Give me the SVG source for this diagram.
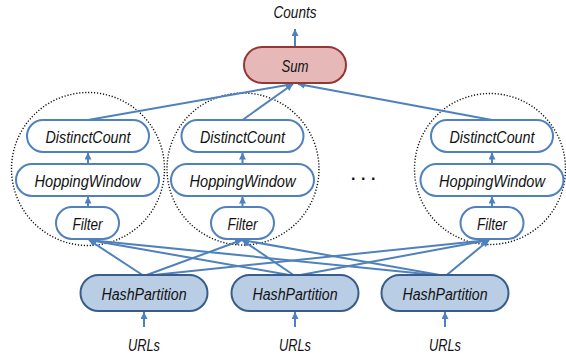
<svg xmlns="http://www.w3.org/2000/svg" width="566" height="358" viewBox="0 0 566 358">
<defs>
<marker id="arr" viewBox="0 0 8 8" refX="8" refY="4" markerWidth="7" markerHeight="7" markerUnits="userSpaceOnUse" orient="auto">
<path d="M0,0 L8,4 L0,8 z" fill="#4f81bd"/>
</marker>
<style>
text{font-family:"Liberation Sans",Arial,sans-serif;font-style:italic;font-size:16px;fill:#111;text-anchor:middle}
.op{fill:#fff;stroke:#4f81bd;stroke-width:2}
.hp{fill:#b9cde5;stroke:#385d8a;stroke-width:2}
.sum{fill:#e6b9b8;stroke:#953735;stroke-width:2}
.grp{fill:none;stroke:#111;stroke-width:1.4;stroke-dasharray:1.2 1.8}
.c{stroke:#4f81bd;stroke-width:2;fill:none;marker-end:url(#arr)}
</style>
</defs>
<rect width="566" height="358" fill="#fff"/>
<g id="groups">
<circle class="grp" cx="88" cy="169" r="76.5"/>
<circle class="grp" cx="243" cy="169" r="76"/>
<circle class="grp" cx="490" cy="169" r="75.5"/>
</g>
<g id="connectors">
<line class="c" x1="295" y1="47" x2="295" y2="29"/>
<line class="c" x1="144" y1="327" x2="144" y2="312"/>
<line class="c" x1="295" y1="327" x2="295" y2="312"/>
<line class="c" x1="445" y1="327" x2="445" y2="312"/>
<line class="c" x1="88" y1="164" x2="88" y2="152.5"/>
<line class="c" x1="88" y1="207" x2="88" y2="196.5"/>
<line class="c" x1="242.5" y1="164" x2="242.5" y2="152.5"/>
<line class="c" x1="242.5" y1="207" x2="242.5" y2="196.5"/>
<line class="c" x1="492" y1="164" x2="492" y2="152.5"/>
<line class="c" x1="492" y1="207" x2="492" y2="196.5"/>
<line class="c" x1="88" y1="120" x2="293" y2="84"/>
<line class="c" x1="242.5" y1="120" x2="293" y2="84"/>
<line class="c" x1="492" y1="120" x2="298" y2="84"/>
<line class="c" x1="144" y1="276" x2="89" y2="240"/>
<line class="c" x1="144" y1="276" x2="242" y2="240"/>
<line class="c" x1="144" y1="276" x2="489" y2="240"/>
<line class="c" x1="295" y1="276" x2="89" y2="240"/>
<line class="c" x1="295" y1="276" x2="242" y2="240"/>
<line class="c" x1="295" y1="276" x2="489" y2="240"/>
<line class="c" x1="445.5" y1="276" x2="89" y2="240"/>
<line class="c" x1="445.5" y1="276" x2="242" y2="240"/>
<line class="c" x1="445.5" y1="276" x2="489" y2="240"/>
</g>
<g id="sum"><rect class="sum" x="244" y="47" width="102" height="36" rx="18"/><text x="295" y="72" textLength="27" lengthAdjust="spacingAndGlyphs">Sum</text></g>
<g id="dc1"><rect class="op" x="27" y="120" width="122" height="32" rx="16"/><text x="88" y="142.5" textLength="85" lengthAdjust="spacingAndGlyphs">DistinctCount</text></g>
<g id="hw1"><rect class="op" x="16" y="164" width="143" height="32" rx="16"/><text x="87.5" y="186.5" textLength="106" lengthAdjust="spacingAndGlyphs">HoppingWindow</text></g>
<g id="f1"><rect class="op" x="56" y="207" width="63" height="32" rx="16"/><text x="87.5" y="229.5" textLength="30" lengthAdjust="spacingAndGlyphs">Filter</text></g>
<g id="dc2"><rect class="op" x="181.5" y="120" width="122" height="32" rx="16"/><text x="242.5" y="142.5" textLength="85" lengthAdjust="spacingAndGlyphs">DistinctCount</text></g>
<g id="hw2"><rect class="op" x="171" y="164" width="143" height="32" rx="16"/><text x="242.5" y="186.5" textLength="106" lengthAdjust="spacingAndGlyphs">HoppingWindow</text></g>
<g id="f2"><rect class="op" x="211" y="207" width="63" height="32" rx="16"/><text x="242.5" y="229.5" textLength="30" lengthAdjust="spacingAndGlyphs">Filter</text></g>
<g id="dc3"><rect class="op" x="431" y="120" width="122" height="32" rx="16"/><text x="492" y="142.5" textLength="85" lengthAdjust="spacingAndGlyphs">DistinctCount</text></g>
<g id="hw3"><rect class="op" x="420.5" y="164" width="143" height="32" rx="16"/><text x="492" y="186.5" textLength="106" lengthAdjust="spacingAndGlyphs">HoppingWindow</text></g>
<g id="f3"><rect class="op" x="460.5" y="207" width="63" height="32" rx="16"/><text x="492" y="229.5" textLength="30" lengthAdjust="spacingAndGlyphs">Filter</text></g>
<g id="hp1"><rect class="hp" x="80.5" y="275" width="127" height="36" rx="18"/><text x="144" y="300" textLength="85" lengthAdjust="spacingAndGlyphs">HashPartition</text></g>
<g id="hp2"><rect class="hp" x="231.5" y="275" width="127" height="36" rx="18"/><text x="295" y="300" textLength="85" lengthAdjust="spacingAndGlyphs">HashPartition</text></g>
<g id="hp3"><rect class="hp" x="381.5" y="275" width="127" height="36" rx="18"/><text x="445" y="300" textLength="85" lengthAdjust="spacingAndGlyphs">HashPartition</text></g>
<g id="labels">
<text x="295" y="17.5" textLength="43" lengthAdjust="spacingAndGlyphs">Counts</text>
<text x="144" y="350.5" textLength="32" lengthAdjust="spacingAndGlyphs">URLs</text>
<text x="295" y="350.5" textLength="32" lengthAdjust="spacingAndGlyphs">URLs</text>
<text x="445" y="350.5" textLength="32" lengthAdjust="spacingAndGlyphs">URLs</text>
<text x="351.1" y="179.5" style="text-anchor:start;font-style:normal;font-weight:bold;letter-spacing:5.55px">...</text>
</g>
</svg>
